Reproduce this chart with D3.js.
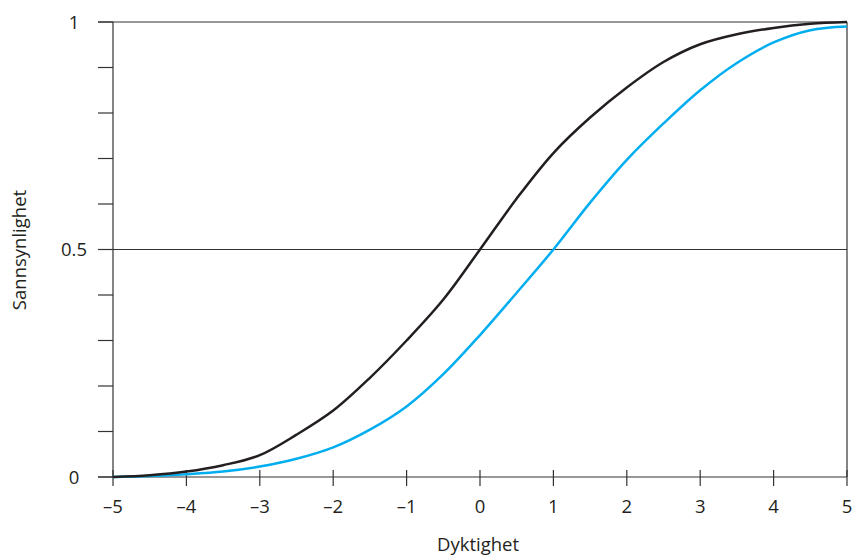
<!DOCTYPE html>
<html>
<head>
<meta charset="utf-8">
<script src="https://cdn.jsdelivr.net/npm/d3@7"></script>
<style>
  body { margin: 0; background: #fff; }
  svg text { font-family: "Open Sans", "Noto Sans", sans-serif; fill: #231f20; }
</style>
</head>
<body>
<svg id="chart" width="853" height="556"></svg>
<script>
// ability values (x) and probabilities
const abilities = [-5, -4.5, -4, -3.5, -3, -2.5, -2, -1.5, -1, -0.5, 0, 0.5, 1, 1.5, 2, 2.5, 3, 3.5, 4, 4.5, 5];
const blackSeries = [0, 0.004, 0.012, 0.026, 0.048, 0.093, 0.146, 0.218, 0.30, 0.39, 0.5, 0.612, 0.712, 0.79, 0.856, 0.912, 0.951, 0.973, 0.987, 0.996, 1.0];
const blueSeries = [0, 0.002, 0.006, 0.012, 0.023, 0.04, 0.065, 0.104, 0.155, 0.226, 0.312, 0.405, 0.5, 0.603, 0.697, 0.777, 0.85, 0.91, 0.955, 0.982, 0.99];
const xTicks = [-5, -4, -3, -2, -1, 0, 1, 2, 3, 4, 5];
const yTicks = d3.range(0, 11).map(d => d / 10);
const yLabels = [0, 0.5, 1];

const margin = { top: 22, right: 6, bottom: 79, left: 113 };
const width = 853, height = 556;
const svg = d3.select('#chart');

const x = d3.scaleLinear().domain([-5, 5]).range([margin.left, width - margin.right]);
const y = d3.scaleLinear().domain([0, 1]).range([height - margin.bottom, margin.top]);

const axisColor = '#333';
const fontSize = 18.5;

// horizontal reference lines at 0, 0.5, 1
svg.selectAll('line.hline').data(yLabels).join('line')
  .attr('x1', x(-5) - 15).attr('x2', x(5))
  .attr('y1', d => y(d)).attr('y2', d => y(d))
  .attr('stroke', axisColor).attr('stroke-width', 1.2);

// y minor ticks
svg.selectAll('line.ytick').data(yTicks).join('line')
  .attr('x1', x(-5) - 15).attr('x2', x(-5))
  .attr('y1', d => y(d)).attr('y2', d => y(d))
  .attr('stroke', axisColor).attr('stroke-width', 1.2);

// left and right frame
svg.append('line')
  .attr('x1', x(-5)).attr('x2', x(-5)).attr('y1', y(1)).attr('y2', y(0))
  .attr('stroke', axisColor).attr('stroke-width', 1.2);
svg.append('line')
  .attr('x1', x(5)).attr('x2', x(5)).attr('y1', y(1)).attr('y2', y(0))
  .attr('stroke', axisColor).attr('stroke-width', 1.2);

// x ticks crossing the axis
svg.selectAll('line.xtick').data(xTicks).join('line')
  .attr('x1', d => x(d)).attr('x2', d => x(d))
  .attr('y1', y(0) - 7).attr('y2', y(0) + 9)
  .attr('stroke', axisColor).attr('stroke-width', 1.2);

svg.selectAll('text.xlabel').data(xTicks).join('text')
  .attr('x', d => x(d)).attr('y', y(0) + 36)
  .attr('text-anchor', 'middle').attr('font-size', fontSize)
  .text(d => d < 0 ? '\u2013' + Math.abs(d) : d);

svg.selectAll('text.ylabel').data(yLabels).join('text')
  .attr('x', 74).attr('y', d => y(d) + 6.5)
  .attr('text-anchor', 'middle').attr('font-size', fontSize)
  .text(d => d);

// axis titles
svg.append('text')
  .attr('x', 478).attr('y', 551)
  .attr('text-anchor', 'middle').attr('font-size', fontSize)
  .text('Dyktighet');
svg.append('text')
  .attr('transform', 'translate(26,250) rotate(-90)')
  .attr('text-anchor', 'middle').attr('font-size', fontSize)
  .text('Sannsynlighet');

const line = d3.line()
  .x(d => x(d[0]))
  .y(d => y(d[1]))
  .curve(d3.curveCatmullRom.alpha(0.5));

svg.append('path')
  .datum(abilities.map((a, i) => [a, blueSeries[i]]))
  .attr('d', line).attr('fill', 'none')
  .attr('stroke', '#00aeef').attr('stroke-width', 2.5);

svg.append('path')
  .datum(abilities.map((a, i) => [a, blackSeries[i]]))
  .attr('d', line).attr('fill', 'none')
  .attr('stroke', '#231f20').attr('stroke-width', 2.5);
</script>
</body>
</html>
